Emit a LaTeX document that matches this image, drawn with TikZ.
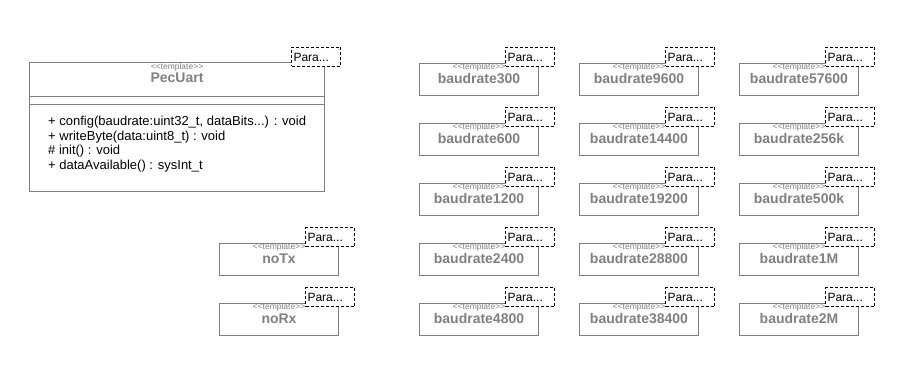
\documentclass[tikz,border=0pt]{standalone}
\usepackage{fontspec}
\setmainfont{Liberation Sans}
\usepackage{xcolor}
\usetikzlibrary{positioning}
\definecolor{umlgray}{HTML}{808080}

\begin{document}
\begin{tikzpicture}[x=1pt, y=-1pt,
  classbox/.style={draw=umlgray, line width=1pt, anchor=north west,
                   minimum width=119pt, minimum height=32pt, inner sep=0pt},
  parabox/.style={draw=black, fill=white, line width=1pt,
                  dash pattern=on 3pt off 2pt, anchor=north west,
                  text width=45pt, inner sep=2pt, minimum height=19pt,
                  align=left, font=\fontsize{12}{14}\selectfont},
  stereo/.style={font=\fontsize{8.5}{9}\selectfont, text=umlgray, inner sep=0pt},
  title/.style={font=\fontsize{14}{16}\selectfont\bfseries, text=umlgray, inner sep=0pt}
]
  \useasboundingbox (0,0) rectangle (900,377);

  % Main class
  \node[classbox, minimum width=295pt, minimum height=129pt] (pec) at (29,62) {};
  \draw[umlgray, line width=1pt] ([yshift=-35pt]pec.north west) -- ([yshift=-35pt]pec.north east);
  \draw[umlgray, line width=1pt] ([yshift=-43pt]pec.north west) -- ([yshift=-43pt]pec.north east);
  \node[stereo] (pec-st) at ([yshift=-5pt]pec.north) {{<}{<}template{>}{>}};
  \node[title] (pec-ti) at ([yshift=-16pt]pec.north) {PecUart};
  \node[anchor=north west, inner sep=0pt, align=left,
        font=\fontsize{13}{14.6}\selectfont] (pec-ops) at (48,116)
    {+ config(baudrate:uint32\_t, dataBits...) : void\\
     + writeByte(data:uint8\_t) : void\\
     \# init() : void\\
     + dataAvailable() : sysInt\_t};
  \node[parabox] (pec-par) at ([xshift=-34pt, yshift=15pt]pec.north east) {Para...};

  % Flag classes
  \node[classbox] (notx) at (219,243) {};
  \node[stereo] (notx-st) at ([yshift=-4.5pt]notx.north) {{<}{<}template{>}{>}};
  \node[title] (notx-ti) at ([yshift=-15.5pt]notx.north) {noTx};
  \node[parabox] (notx-par) at ([xshift=-34pt, yshift=16pt]notx.north east) {Para...};

  \node[classbox] (norx) at (219,303) {};
  \node[stereo] (norx-st) at ([yshift=-4.5pt]norx.north) {{<}{<}template{>}{>}};
  \node[title] (norx-ti) at ([yshift=-15.5pt]norx.north) {noRx};
  \node[parabox] (norx-par) at ([xshift=-34pt, yshift=16pt]norx.north east) {Para...};

  % Baudrate classes
  \foreach \x/\rates in {419/{300,600,1200,2400,4800},
                         579/{9600,14400,19200,28800,38400},
                         739/{57600,256k,500k,1M,2M}} {
    \foreach \r [count=\k from 0] in \rates {
      \node[classbox] (br\r) at (\x,63+60*\k) {};
      \node[stereo] (br\r-st) at ([yshift=-4.5pt]br\r.north) {{<}{<}template{>}{>}};
      \node[title] (br\r-ti) at ([yshift=-15.5pt]br\r.north) {baudrate\r};
      \node[parabox] (br\r-par) at ([xshift=-34pt, yshift=16pt]br\r.north east) {Para...};
    }
  }
\end{tikzpicture}
\end{document}
